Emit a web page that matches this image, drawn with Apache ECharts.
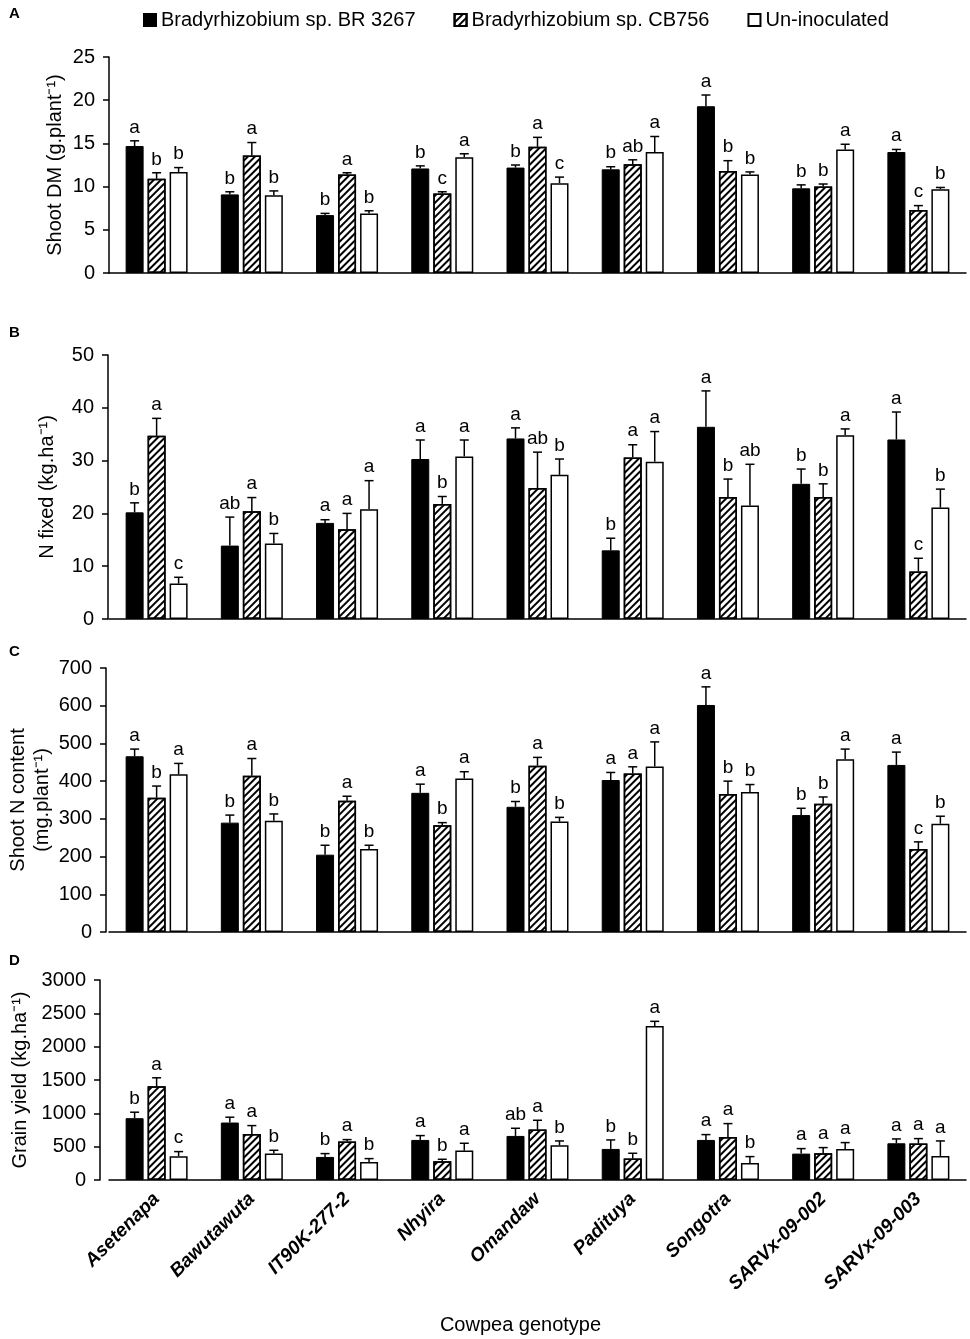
<!DOCTYPE html>
<html>
<head>
  <meta charset="UTF-8">
  <title>Cowpea genotype</title>
  <script src="https://cdn.jsdelivr.net/npm/echarts@6/dist/echarts.min.js"></script>
  <style>
    body { margin: 0; padding: 0; background: #fff; }
    #chart { width: 970px; height: 1339px; }
  </style>
</head>
<body>
  <div id="chart"></div>
  <script>
    // categories and series
    var genotypes = ['Asetenapa', 'Bawutawuta', 'IT90K-277-2', 'Nhyira', 'Omandaw', 'Padituya', 'Songotra', 'SARVx-09-002', 'SARVx-09-003'];
    var seriesNames = ['Bradyrhizobium sp. BR 3267', 'Bradyrhizobium sp. CB756', 'Un-inoculated'];

    // A: shoot DM
    var dmBR = [14.7, 9.1, 6.7, 12.1, 12.2, 12.0, 19.3, 9.8, 14.0];
    var dmCB = [10.9, 13.6, 11.4, 9.2, 14.6, 12.6, 11.8, 10.0, 7.3];
    var dmUn = [11.7, 9.0, 6.9, 13.4, 10.4, 14.0, 11.4, 14.3, 9.7];
    var dmBRerr = [0.6, 0.3, 0.2, 0.3, 0.3, 0.3, 1.3, 0.4, 0.3];
    var dmCBerr = [0.7, 1.5, 0.2, 0.2, 1.1, 0.5, 1.2, 0.3, 0.5];
    var dmUnerr = [0.5, 0.5, 0.3, 0.4, 0.7, 1.8, 0.3, 0.6, 0.2];
    var dmBRlet = ['a', 'b', 'b', 'b', 'b', 'b', 'a', 'b', 'a'];
    var dmCBlet = ['b', 'a', 'a', 'c', 'a', 'ab', 'b', 'b', 'c'];
    var dmUnlet = ['b', 'b', 'b', 'a', 'c', 'a', 'b', 'a', 'b'];

    // B: N fixed
    var nfBR = [20.2, 13.9, 18.2, 30.3, 34.2, 13.0, 36.4, 25.6, 34.0];
    var nfCB = [34.7, 20.4, 17.0, 21.8, 24.8, 30.6, 23.1, 23.1, 9.0];
    var nfUn = [6.7, 14.3, 20.8, 30.8, 27.3, 29.8, 21.5, 34.8, 21.1];
    var nfBRerr = [1.8, 5.4, 0.6, 3.6, 2.0, 2.3, 6.8, 2.8, 5.2];
    var nfCBerr = [3.3, 2.6, 3.0, 1.4, 6.8, 2.4, 3.4, 2.5, 2.5];
    var nfUnerr = [1.2, 1.9, 5.4, 3.1, 3.0, 5.7, 7.8, 1.2, 3.5];
    var nfBRlet = ['b', 'ab', 'a', 'a', 'a', 'b', 'a', 'b', 'a'];
    var nfCBlet = ['a', 'a', 'a', 'b', 'ab', 'a', 'b', 'b', 'c'];
    var nfUnlet = ['c', 'b', 'a', 'a', 'b', 'a', 'ab', 'a', 'b'];

    // C: shoot N content
    var ncBR = [466, 290, 205, 369, 332, 403, 602, 310, 443];
    var ncCB = [356, 414, 348, 283, 441, 420, 366, 340, 220];
    var ncUn = [418, 295, 220, 407, 293, 439, 371, 458, 287];
    var ncBRerr = [19, 20, 25, 23, 14, 20, 48, 18, 34];
    var ncCBerr = [31, 46, 12, 7, 22, 18, 34, 18, 19];
    var ncUnerr = [29, 18, 10, 18, 11, 65, 20, 27, 20];
    var ncBRlet = ['a', 'b', 'b', 'a', 'b', 'a', 'a', 'b', 'a'];
    var ncCBlet = ['b', 'a', 'a', 'b', 'a', 'a', 'b', 'b', 'c'];
    var ncUnlet = ['a', 'b', 'b', 'a', 'b', 'a', 'b', 'a', 'b'];

    // D: grain yield
    var gyBR = [927, 862, 346, 601, 661, 466, 601, 396, 551];
    var gyCB = [1408, 691, 576, 281, 756, 321, 646, 401, 546];
    var gyUn = [356, 396, 271, 441, 521, 2310, 256, 466, 361];
    var gyBRerr = [90, 80, 50, 65, 115, 135, 80, 75, 65];
    var gyCBerr = [125, 125, 30, 30, 140, 80, 200, 85, 75];
    var gyUnerr = [70, 50, 50, 110, 65, 70, 95, 95, 225];
    var gyBRlet = ['b', 'a', 'b', 'a', 'ab', 'b', 'a', 'a', 'a'];
    var gyCBlet = ['a', 'a', 'a', 'b', 'a', 'b', 'a', 'a', 'a'];
    var gyUnlet = ['c', 'b', 'b', 'a', 'b', 'a', 'b', 'a', 'a'];

    // panels
    var panelTags = ['A', 'B', 'C', 'D'];
    var yNames = ['Shoot DM (g.plant\u207B\u00B9)', 'N fixed (kg.ha\u207B\u00B9)', 'Shoot N content\n(mg.plant\u207B\u00B9)', 'Grain yield (kg.ha\u207B\u00B9)'];
    var yMax = [25, 50, 700, 3000];
    var yStep = [5, 10, 100, 500];

    var FONT = '"Liberation Sans", Arial, sans-serif';
    var BAR_W = 18;
    var BAR_GAP = 4;
    var grids = [
      { left: 109, right: 4, top: 57, height: 216, outerBoundsMode: 'none' },
      { left: 109, right: 4, top: 355, height: 264, outerBoundsMode: 'none' },
      { left: 109, right: 4, top: 668, height: 264, outerBoundsMode: 'none' },
      { left: 109, right: 4, top: 980, height: 200, outerBoundsMode: 'none' }
    ];
    var nameGaps = [42, 49, 52, 68];
    var yOffsets = [0, 1, 3, 9];

    var panels = [
      [[dmBR, dmBRerr, dmBRlet], [dmCB, dmCBerr, dmCBlet], [dmUn, dmUnerr, dmUnlet]],
      [[nfBR, nfBRerr, nfBRlet], [nfCB, nfCBerr, nfCBlet], [nfUn, nfUnerr, nfUnlet]],
      [[ncBR, ncBRerr, ncBRlet], [ncCB, ncCBerr, ncCBlet], [ncUn, ncUnerr, ncUnlet]],
      [[gyBR, gyBRerr, gyBRlet], [gyCB, gyCBerr, gyCBlet], [gyUn, gyUnerr, gyUnlet]]
    ];

    var hatch = {
      symbol: 'rect',
      symbolSize: 1,
      color: '#000',
      dashArrayX: [1, 0],
      dashArrayY: [1.6, 2.6],
      rotation: -Math.PI / 4
    };
    var barStyles = [
      { color: '#000', borderColor: '#000', borderWidth: 1 },
      { color: '#fff', borderColor: '#000', borderWidth: 1.5, decal: hatch },
      { color: '#fff', borderColor: '#000', borderWidth: 1.5 }
    ];

    function errorSeries(gi, si, vals, errs, lets) {
      var off = (si - 1) * (BAR_W + BAR_GAP);
      return {
        type: 'custom',
        name: 'err' + gi + si,
        xAxisIndex: gi,
        yAxisIndex: gi,
        z: 5,
        silent: true,
        data: vals.map(function (v, i) { return [i, v, errs[i]]; }),
        renderItem: function (params, api) {
          var base = api.coord([api.value(0), api.value(1)]);
          var top = api.coord([api.value(0), api.value(1) + api.value(2)]);
          var x = base[0] + off;
          return {
            type: 'group',
            children: [
              { type: 'line', shape: { x1: x, y1: base[1], x2: x, y2: top[1] }, style: { stroke: '#000', lineWidth: 1.5 } },
              { type: 'line', shape: { x1: x - 4.5, y1: top[1], x2: x + 4.5, y2: top[1] }, style: { stroke: '#000', lineWidth: 1.5 } },
              { type: 'text', x: x, y: top[1] - 4, style: { text: lets[params.dataIndex], fill: '#000', font: '19px ' + FONT, textAlign: 'center', textVerticalAlign: 'bottom' } }
            ]
          };
        }
      };
    }

    var xAxes = [], yAxes = [], series = [], graphics = [];
    for (var g = 0; g < 4; g++) {
      var last = g === 3;
      xAxes.push({
        type: 'category',
        gridIndex: g,
        data: genotypes,
        axisLine: { lineStyle: { color: '#000', width: 1.5 } },
        axisTick: { show: false },
        axisLabel: {
          show: last,
          rotate: 45,
          margin: 16,
          color: '#000',
          fontSize: 19,
          fontWeight: 'bold',
          fontStyle: 'italic',
          fontFamily: FONT
        },
        name: last ? 'Cowpea genotype' : '',
        nameLocation: 'middle',
        nameGap: 135,
        nameMoveOverlap: false,
        nameTextStyle: { color: '#000', fontSize: 20, fontFamily: FONT, padding: [0, 34, 0, 0] }
      });
      yAxes.push({
        type: 'value',
        gridIndex: g,
        offset: yOffsets[g],
        min: 0,
        max: yMax[g],
        interval: yStep[g],
        splitLine: { show: false },
        axisLine: { show: true, lineStyle: { color: '#000', width: 1.5 } },
        axisTick: { show: true, length: 6, lineStyle: { color: '#000', width: 1.5 } },
        axisLabel: { color: '#000', fontSize: 20, fontFamily: FONT, margin: 14, formatter: function (v) { return String(v); } },
        name: yNames[g],
        nameLocation: 'middle',
        nameGap: nameGaps[g],
        nameMoveOverlap: false,
        nameTextStyle: { color: '#000', fontSize: 20, fontFamily: FONT, lineHeight: 24 }
      });
      for (var s = 0; s < 3; s++) {
        series.push({
          type: 'bar',
          name: seriesNames[s],
          xAxisIndex: g,
          yAxisIndex: g,
          barWidth: BAR_W,
          barGap: (BAR_GAP / BAR_W * 100) + '%',
          data: panels[g][s][0],
          itemStyle: barStyles[s],
          emphasis: { disabled: true }
        });
      }
      for (var s2 = 0; s2 < 3; s2++) {
        series.push(errorSeries(g, s2, panels[g][s2][0], panels[g][s2][1], panels[g][s2][2]));
      }
    }

    var tagTops = [6, 325, 644, 953];
    for (var t = 0; t < 4; t++) {
      graphics.push({
        type: 'text',
        left: 9,
        top: tagTops[t],
        style: { text: panelTags[t], font: 'bold 15px ' + FONT, fill: '#000' }
      });
    }

    var chart = echarts.init(document.getElementById('chart'), null, { renderer: 'canvas' });
    chart.setOption({
      backgroundColor: '#fff',
      animation: false,
      grid: grids,
      xAxis: xAxes,
      yAxis: yAxes,
      legend: {
        data: seriesNames,
        icon: 'rect',
        left: 138,
        top: 5,
        itemWidth: 12,
        itemHeight: 12,
        itemGap: 38,
        selectedMode: false,
        textStyle: { color: '#000', fontSize: 20, fontFamily: FONT }
      },
      graphic: graphics,
      series: series
    });
  </script>
</body>
</html>
